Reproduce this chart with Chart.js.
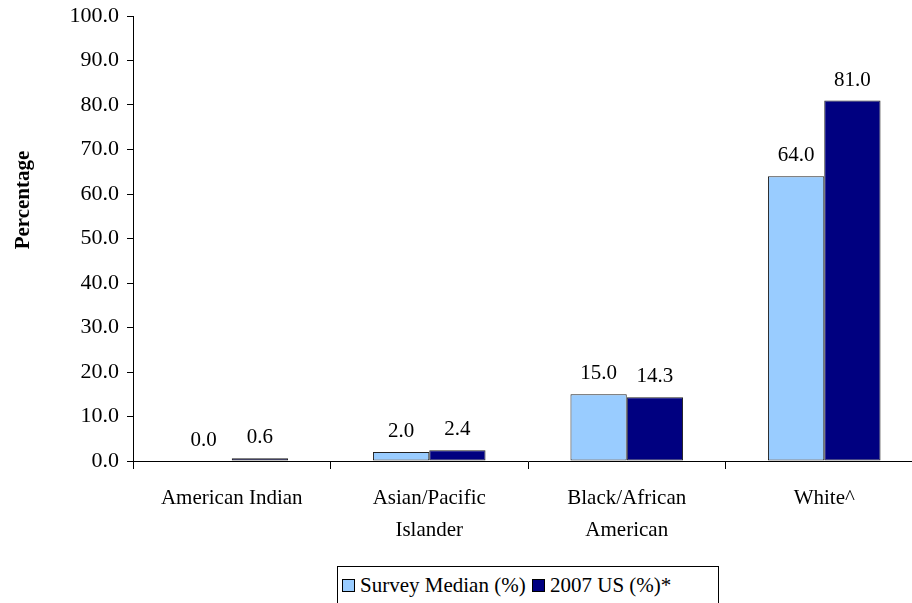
<!DOCTYPE html>
<html>
<head>
<meta charset="UTF-8">
<title>Race / ethnicity chart</title>
<script src="https://cdn.jsdelivr.net/npm/chart.js@4.4.0/dist/chart.umd.min.js"></script>
<style>
  body { margin: 0; overflow: hidden; background: #fff; }
  #wrap { position: relative; width: 912px; height: 603px; overflow: hidden; }
  #legend {
    position: absolute; left: 337px; top: 566px; width: 380px; height: 50px;
    border: 1px solid #000; background: #fff;
    font-family: "Liberation Serif", serif; font-size: 21px; color: #000;
    white-space: nowrap;
  }
  #legend span.box {
    display: inline-block; width: 11px; height: 11px; border: 1px solid #000;
    vertical-align: middle; margin: 0 5px 0 0; position: relative; top: -2px;
  }
  #legend .item { position: absolute; top: 6px; }
</style>
</head>
<body>
<div id="wrap">
  <canvas id="myChart" width="930" height="603"></canvas>
  <div id="legend">
    <div class="item" style="left:4px"><span class="box" style="background:#99CCFF"></span>Survey Median (%)</div>
    <div class="item" style="left:194px"><span class="box" style="background:#000080"></span>2007 US (%)*</div>
  </div>
</div>
<script>
// 데이터
const categories = ['American Indian', ['Asian/Pacific', 'Islander'], ['Black/African', 'American'], 'White^'];
const surveyMedian = [0.0, 2.0, 15.0, 64.0];
const us2007 = [0.6, 2.4, 14.3, 81.0];
const seriesNames = ['Survey Median (%)', '2007 US (%)*'];
const yTicks = { min: 0, max: 100, step: 10 };

const serif = '"Liberation Serif", "Times New Roman", serif';

// 막대 위 값 표시
const valueLabels = {
    id: 'valueLabels',
    afterDatasetsDraw(chart) {
        const ctx = chart.ctx;
        ctx.save();
        ctx.font = '21px ' + serif;
        ctx.fillStyle = '#000';
        ctx.textAlign = 'center';
        ctx.textBaseline = 'alphabetic';
        chart.data.datasets.forEach((ds, i) => {
            chart.getDatasetMeta(i).data.forEach((bar, j) => {
                ctx.fillText(ds.data[j].toFixed(1), bar.x, bar.y - 15);
            });
        });
        ctx.restore();
    }
};

// 세로축 제목
const yTitle = {
    id: 'yTitle',
    afterDraw(chart) {
        const ctx = chart.ctx;
        ctx.save();
        ctx.translate(24, 200);
        ctx.rotate(-Math.PI / 2);
        ctx.font = 'bold 21px ' + serif;
        ctx.fillStyle = '#000';
        ctx.textAlign = 'center';
        ctx.textBaseline = 'middle';
        ctx.fillText('Percentage', 0, 0);
        ctx.restore();
    }
};

const canvas = document.getElementById('myChart');
const myChart = new Chart(canvas, {
    type: 'bar',
    data: {
        labels: categories,
        datasets: [{
            label: seriesNames[0],
            data: surveyMedian,
            backgroundColor: '#99CCFF',
            borderColor: '#222',
            borderWidth: 1,
            borderSkipped: false
        }, {
            label: seriesNames[1],
            data: us2007,
            backgroundColor: '#000080',
            borderColor: '#222',
            borderWidth: 1,
            borderSkipped: false
        }]
    },
    options: {
        responsive: false,
        animation: false,
        devicePixelRatio: 1,
        categoryPercentage: 0.57,
        barPercentage: 1.0,
        layout: { padding: { top: 16, right: 7, left: 0, bottom: 0 } },
        plugins: {
            legend: { display: false },
            tooltip: { enabled: false }
        },
        scales: {
            x: {
                grid: { drawOnChartArea: false, offset: true, color: '#000', tickLength: 8 },
                border: { color: '#000', width: 1 },
                ticks: {
                    color: '#000', padding: 14, maxRotation: 0, autoSkip: false,
                    font: { family: serif, size: 21, lineHeight: 1.5 }
                },
                afterFit(scale) { scale.height = 142; }
            },
            y: {
                min: yTicks.min,
                max: yTicks.max,
                grid: { drawOnChartArea: false, color: '#000', tickLength: 6 },
                border: { color: '#000', width: 1 },
                ticks: {
                    stepSize: yTicks.step, color: '#000', padding: 8,
                    font: { family: serif, size: 22 },
                    callback: v => v.toFixed(1)
                },
                afterFit(scale) {
                    scale.width = 133;
                    scale.paddingTop = 0;
                    scale.paddingBottom = 0;
                }
            }
        }
    },
    plugins: [valueLabels, yTitle]
});
</script>
</body>
</html>
